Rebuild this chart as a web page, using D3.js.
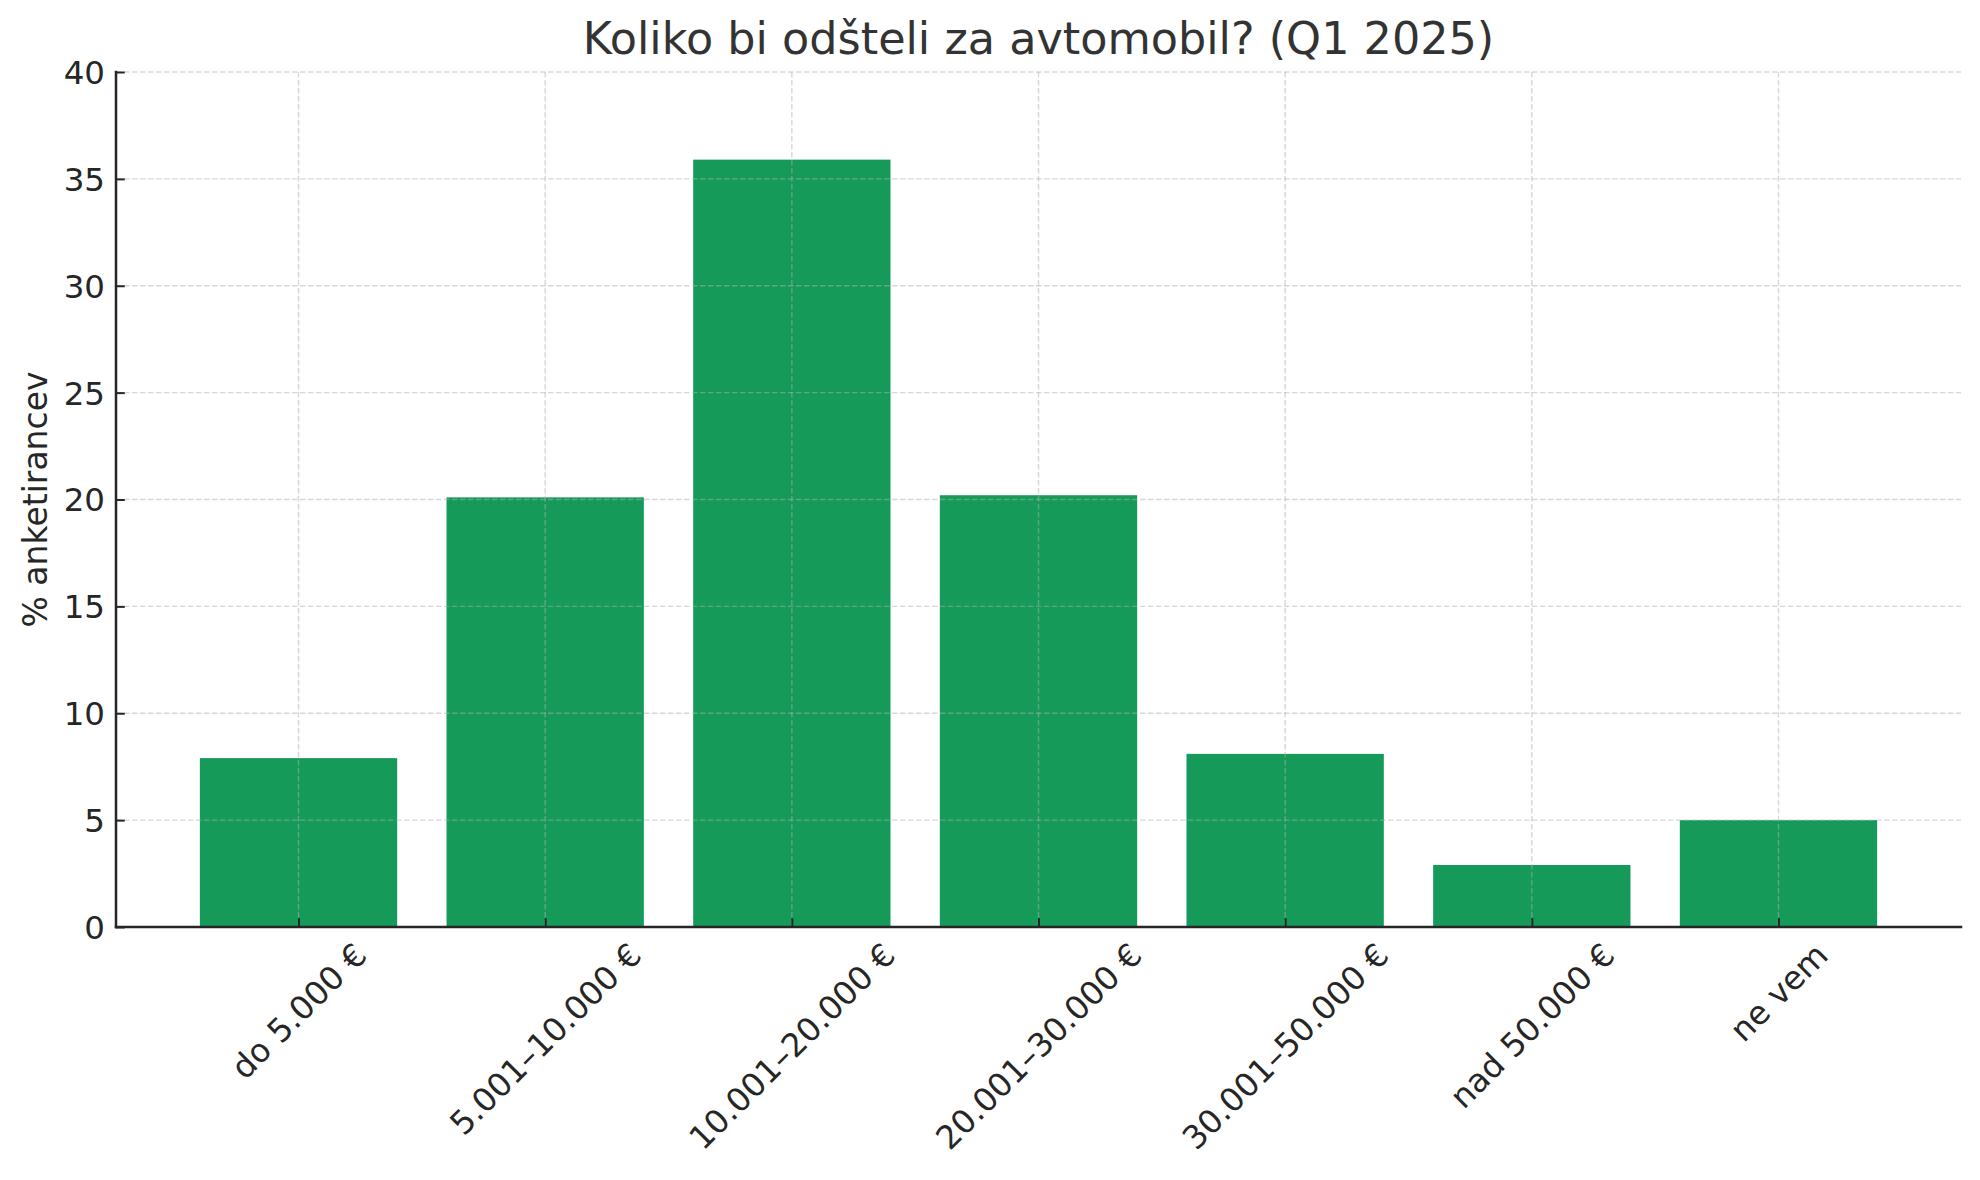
<!DOCTYPE html>
<html>
<head>
<meta charset="utf-8">
<script src="https://cdn.jsdelivr.net/npm/d3@7"></script>
<style>
  html, body { margin: 0; padding: 0; background: #ffffff; }
  svg { display: block; font-family: "DejaVu Sans", sans-serif; }
</style>
</head>
<body>
<svg id="chart" width="1980" height="1180"></svg>
<script>
// ---- data ----
const categories = ["do 5.000 €", "5.001–10.000 €", "10.001–20.000 €", "20.001–30.000 €", "30.001–50.000 €", "nad 50.000 €", "ne vem"];
const values = [7.9, 20.1, 35.9, 20.2, 8.1, 2.9, 5.0];
const yTicks = [0, 5, 10, 15, 20, 25, 30, 35, 40];
const titleText = "Koliko bi odšteli za avtomobil? (Q1 2025)";
const yLabelText = "% anketirancev";

// ---- layout ----
const W = 1980, H = 1180;
const m = { left: 116, right: 1961, top: 72, bottom: 927 };
const barColor = "#159a5a";
const axisColor = "#262626";
const tickFont = 32.5;

const svg = d3.select("#chart");
svg.append("rect").attr("width", W).attr("height", H).attr("fill", "#fff");

// x scale in category-index units, mimicking matplotlib bar limits with 5% margins
const idx = categories.map((d, i) => i);
const barW = 0.8;
const lo = -barW / 2, hi = categories.length - 1 + barW / 2;
const pad = (hi - lo) * 0.05;
const x = d3.scaleLinear().domain([lo - pad, hi + pad]).range([m.left, m.right]);
const y = d3.scaleLinear().domain([0, 40]).range([m.bottom, m.top]);

// bars
svg.append("g").selectAll("rect").data(values).join("rect")
  .attr("x", (d, i) => x(i - barW / 2))
  .attr("width", (d, i) => x(i + barW / 2) - x(i - barW / 2))
  .attr("y", d => y(d))
  .attr("height", d => y(0) - y(d))
  .attr("fill", barColor);

// grid (drawn above bars like matplotlib default)
const grid = svg.append("g")
  .attr("stroke", "#b0b0b0").attr("stroke-opacity", 0.5)
  .attr("stroke-width", 1.4).attr("stroke-dasharray", "5.5,2.5");
grid.selectAll("line.h").data(yTicks).join("line").attr("class", "h")
  .attr("x1", m.left).attr("x2", m.right)
  .attr("y1", d => y(d)).attr("y2", d => y(d));
grid.selectAll("line.v").data(idx).join("line").attr("class", "v")
  .attr("x1", d => x(d)).attr("x2", d => x(d))
  .attr("y1", m.top).attr("y2", m.bottom);

// y axis (ticks inward)
const yAxis = d3.axisLeft(y).tickValues(yTicks).tickSize(-8.75).tickPadding(11).tickFormat(d3.format("d"));
const gy = svg.append("g").attr("transform", `translate(${m.left},0)`).call(yAxis);
gy.select(".domain").remove();
gy.selectAll(".tick line").attr("stroke", axisColor).attr("stroke-width", 2);
gy.selectAll(".tick text").attr("fill", axisColor).style("font-size", tickFont + "px")
  .style("font-family", "DejaVu Sans").attr("dy", "0.35em");

// x axis (ticks inward)
const xAxis = d3.axisBottom(x).tickValues(idx).tickSize(-8.75).tickFormat(i => categories[i]);
const gx = svg.append("g").attr("transform", `translate(0,${m.bottom})`).call(xAxis);
gx.select(".domain").remove();
gx.selectAll(".tick line").attr("stroke", axisColor).attr("stroke-width", 2);
gx.selectAll(".tick text")
  .attr("fill", axisColor).style("font-size", tickFont + "px").style("font-family", "DejaVu Sans")
  .attr("y", 0).attr("dy", null)
  .attr("text-anchor", "middle")
  .attr("dominant-baseline", "central")
  .each(function () {
    const t = d3.select(this);
    const w = this.getComputedTextLength();
    const h = tickFont;
    const half = (w + h) / Math.SQRT2 / 2;
    const top = 11;
    t.attr("transform", `translate(0,${top + half}) rotate(-45)`);
  });

// spines
svg.append("line").attr("x1", m.left).attr("x2", m.left).attr("y1", m.top).attr("y2", m.bottom)
  .attr("stroke", axisColor).attr("stroke-width", 2.5).attr("stroke-linecap", "square");
svg.append("line").attr("x1", m.left).attr("x2", m.right).attr("y1", m.bottom).attr("y2", m.bottom)
  .attr("stroke", axisColor).attr("stroke-width", 2.5).attr("stroke-linecap", "square");

// y label
svg.append("text")
  .attr("transform", `translate(35,${(m.top + m.bottom) / 2}) rotate(-90)`)
  .attr("text-anchor", "middle").attr("dominant-baseline", "central")
  .attr("fill", axisColor).style("font-size", "33px")
  .text(yLabelText);

// title
svg.append("text")
  .attr("x", (m.left + m.right) / 2).attr("y", 54)
  .attr("text-anchor", "middle")
  .attr("fill", "#333333").style("font-size", "44.5px")
  .text(titleText);
</script>
</body>
</html>
